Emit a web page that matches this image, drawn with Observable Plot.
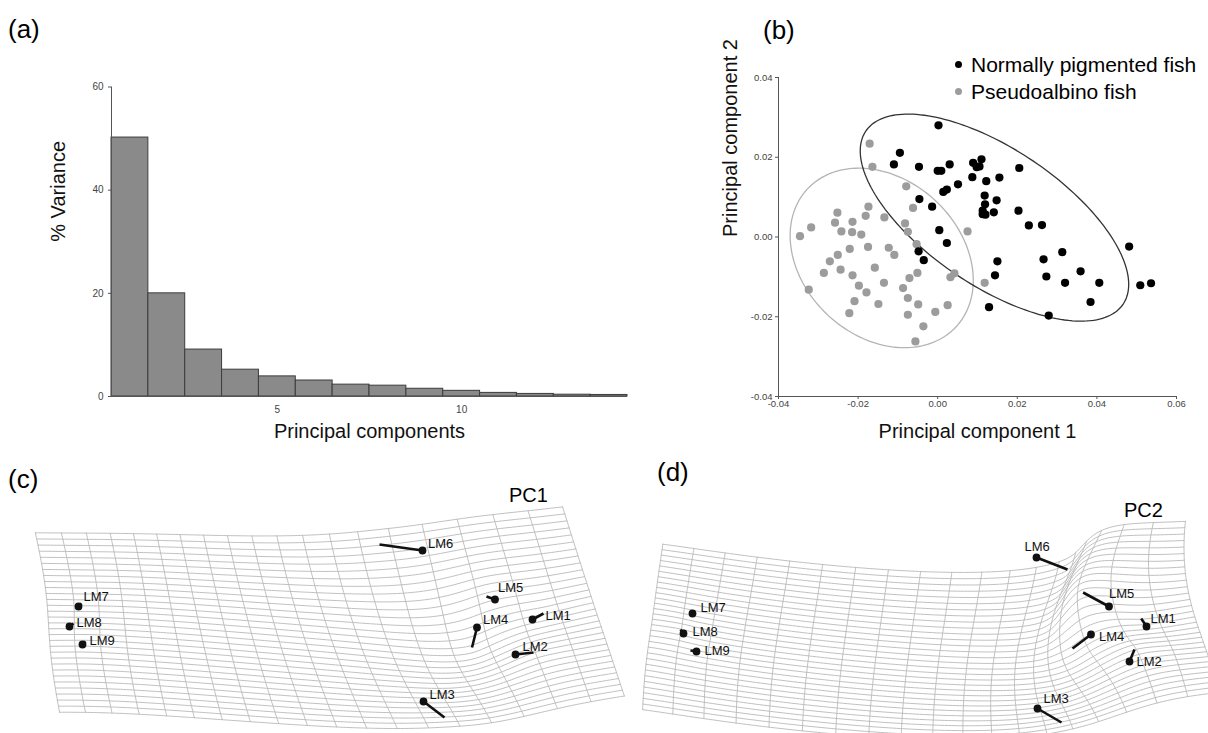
<!DOCTYPE html>
<html>
<head>
<meta charset="utf-8">
<script src="https://cdn.jsdelivr.net/npm/d3@7"></script>
<script src="https://cdn.jsdelivr.net/npm/@observablehq/plot@0.6"></script>
<style>
  body { margin: 0; background: #fff; }
  #fig { position: relative; width: 1208px; height: 733px; overflow: hidden;
         font-family: "Liberation Sans", Arial, sans-serif; color: #000; }
  .pane { position: absolute; }
  .pane svg { overflow: visible; }
  .tag { position: absolute; font-size: 26px; line-height: 26px; }
  .cap { position: absolute; font-size: 20px; line-height: 20px; }
  .legend { position: absolute; left: 955px; top: 51px; font-size: 21px; line-height: 27px; }
  .legend span.dot { display: inline-block; width: 7px; height: 7px; border-radius: 50%;
                     margin-right: 9px; vertical-align: middle; position: relative; top: -2px; }
</style>
</head>
<body>
<div id="fig"></div>
<script>
// ---------- (a) percentage of shape variance per principal component ----------
const pcIndex = [1, 2, 3, 4, 5, 6, 7, 8, 9, 10, 11, 12, 13, 14];
const pctVariance = [50.2, 20.0, 9.1, 5.2, 3.9, 3.1, 2.3, 2.1, 1.5, 1.1, 0.7, 0.5, 0.35, 0.3];

// ---------- (b) PC scores of individual fish ----------
const normalPC1 = [0.0002, -0.0095, -0.011, -0.0047, 0.0, 0.0009, 0.003, 0.0089, 0.0098, 0.011,
  0.0105, 0.0087, 0.0122, 0.0155, 0.0205, 0.0051, 0.0023, 0.0014, -0.0046, -0.0014,
  0.0118, 0.0148, 0.0119, 0.0113, 0.012, 0.0141, 0.0113, 0.0203, 0.0229, 0.0262,
  0.0004, 0.0023, -0.0048, -0.0035, 0.015, 0.0144, 0.0129, 0.0266, 0.0273, 0.0279,
  0.0313, 0.032, 0.0359, 0.0384, 0.0406, 0.0481, 0.0509, 0.0536];
const normalPC2 = [0.028, 0.0211, 0.0182, 0.0176, 0.0166, 0.0166, 0.0182, 0.0186, 0.0175, 0.0195,
  0.0177, 0.015, 0.014, 0.0149, 0.0173, 0.0132, 0.0119, 0.0113, 0.0095, 0.0076,
  0.0104, 0.0092, 0.0082, 0.0066, 0.0056, 0.0062, 0.0057, 0.0066, 0.0029, 0.003,
  0.0017, -0.0015, -0.0036, -0.0058, -0.0061, -0.0096, -0.0176, -0.0056, -0.0099, -0.0197,
  -0.0038, -0.0115, -0.0086, -0.0163, -0.0115, -0.0024, -0.0121, -0.0116];
const albinoPC1 = [-0.0171, -0.0164, -0.0079, -0.0062, -0.0174, -0.0252, -0.0134, -0.0181, -0.0258, -0.0214,
  -0.0082, -0.0318, -0.0346, -0.0242, -0.0215, -0.0192, -0.0075, 0.0075, -0.0053, -0.0221,
  -0.0175, -0.0123, -0.0109, -0.0251, -0.0271, -0.0158, -0.0244, -0.0286, -0.0214, -0.0051,
  -0.0071, -0.0135, -0.0198, -0.0087, -0.0179, -0.0324, 0.0032, 0.0042, 0.0118, -0.0075,
  -0.0209, -0.0149, -0.0049, 0.0025, -0.0222, -0.0075, -0.0006, -0.0036, -0.0056];
const albinoPC2 = [0.0234, 0.0176, 0.0127, 0.0073, 0.0076, 0.0061, 0.0049, 0.0053, 0.0036, 0.0038,
  0.0034, 0.0024, 0.0002, 0.0014, 0.0012, 0.0006, 0.0013, 0.0014, -0.0018, -0.003,
  -0.0025, -0.0027, -0.0045, -0.0045, -0.0061, -0.0077, -0.0082, -0.009, -0.0096, -0.009,
  -0.0103, -0.0115, -0.0122, -0.0128, -0.0139, -0.0132, -0.0101, -0.0091, -0.0115, -0.0153,
  -0.0161, -0.0168, -0.0169, -0.0171, -0.0191, -0.0195, -0.0188, -0.0224, -0.0262];
const ellipseProbability = 0.9;

// ---------- (c, d) landmark configurations: mean shape and PC shape changes ----------
const lmNames = ["LM1", "LM2", "LM3", "LM4", "LM5", "LM6", "LM7", "LM8", "LM9"];
const meanX = [2.32, 2.15, 1.23, 1.765, 1.945, 1.22, -2.22, -2.31, -2.18];
const meanY = [0.01, -0.34, -0.81, -0.07, 0.21, 0.70, 0.14, -0.06, -0.24];
const pc1X = [2.43, 2.33, 1.44, 1.715, 1.86, 0.79, -2.19, -2.27, -2.15];
const pc1Y = [0.07, -0.32, -0.97, -0.27, 0.24, 0.76, 0.17, -0.03, -0.21];
const pc2X = [2.267, 2.20, 1.47, 1.58, 1.686, 1.53, -2.22, -2.34, -2.24];
const pc2Y = [0.09, -0.22, -0.95, -0.21, 0.35, 0.58, 0.14, -0.02, -0.23];

// reference grid laid over the mean shape before warping
const gridU = [-2.58, 2.72];
const gridV = [-0.92, 0.81];
const gridCols = 19;
const gridRows = 30;

const FONT = '"Liberation Sans", Arial, sans-serif';
const fig = document.getElementById("fig");

function place(node, left, top) {
  const d = document.createElement("div");
  d.className = "pane";
  d.style.left = left + "px";
  d.style.top = top + "px";
  d.appendChild(node);
  fig.appendChild(d);
}
function addText(cls, txt, left, top) {
  const d = document.createElement("div");
  d.className = cls;
  d.textContent = txt;
  d.style.left = left + "px";
  d.style.top = top + "px";
  fig.appendChild(d);
}

// ---------------- panel (a) ----------------
const scree = pcIndex.map((k, i) => ({pc: k, pct: pctVariance[i]}));
const plotA = Plot.plot({
  width: 640, height: 460,
  marginLeft: 111, marginRight: 13, marginTop: 86.5, marginBottom: 64,
  style: {fontFamily: FONT, fontSize: "10px", color: "#444", background: "transparent"},
  x: {domain: [0.5, 14.5]},
  y: {domain: [0, 60]},
  marks: [
    Plot.rectY(scree, {x1: d => d.pc - 0.5, x2: d => d.pc + 0.5, y: "pct",
      fill: "#8a8a8a", stroke: "#3c3c3c", strokeWidth: 1}),
    Plot.ruleX([0.5], {stroke: "#555"}),
    Plot.ruleY([0], {stroke: "#555"}),
    Plot.axisY({ticks: [0, 20, 40, 60], tickSize: 3, tickPadding: 5, label: null, stroke: "#555"}),
    Plot.axisX({ticks: [5, 10], tickSize: 0, tickPadding: 9, label: null}),
    Plot.text(["% Variance"], {text: d => d, frameAnchor: "left", dx: -53, rotate: -90,
      fontSize: 20, fill: "#111"}),
    Plot.text(["Principal components"], {text: d => d, frameAnchor: "bottom", dy: 41,
      fontSize: 20, fill: "#111"})
  ]
});
place(plotA, 0, 0);

// ---------------- panel (b) ----------------
const normal = normalPC1.map((x, i) => ({x, y: normalPC2[i]}));
const albino = albinoPC1.map((x, i) => ({x, y: albinoPC2[i]}));

// equal-frequency ellipse from the group covariance matrix
function ellipse(pts, p) {
  const n = pts.length;
  const mx = d3.mean(pts, d => d.x), my = d3.mean(pts, d => d.y);
  let sxx = 0, syy = 0, sxy = 0;
  for (const d of pts) {
    sxx += (d.x - mx) ** 2; syy += (d.y - my) ** 2; sxy += (d.x - mx) * (d.y - my);
  }
  sxx /= n - 1; syy /= n - 1; sxy /= n - 1;
  const tr = sxx + syy, det = sxx * syy - sxy * sxy;
  const l1 = tr / 2 + Math.sqrt(tr * tr / 4 - det), l2 = tr / 2 - Math.sqrt(tr * tr / 4 - det);
  const ang = Math.atan2(l1 - sxx, sxy);
  const k = Math.sqrt(-2 * Math.log(1 - p));
  const a = k * Math.sqrt(l1), b = k * Math.sqrt(l2);
  const out = [];
  for (let i = 0; i <= 180; i++) {
    const t = (i / 180) * 2 * Math.PI;
    const ex = a * Math.cos(t), ey = b * Math.sin(t);
    out.push({x: mx + ex * Math.cos(ang) - ey * Math.sin(ang),
              y: my + ex * Math.sin(ang) + ey * Math.cos(ang)});
  }
  return out;
}

const pcTicks = [-0.04, -0.02, 0, 0.02, 0.04, 0.06];
const plotB = Plot.plot({
  width: 568, height: 460,
  marginLeft: 138, marginRight: 32, marginTop: 77, marginBottom: 64,
  style: {fontFamily: FONT, fontSize: "9.5px", color: "#444", background: "transparent"},
  x: {domain: [-0.04, 0.06]},
  y: {domain: [-0.04, 0.04]},
  marks: [
    Plot.line(ellipse(albino, ellipseProbability), {x: "x", y: "y", stroke: "#b4b4b4", strokeWidth: 1.3}),
    Plot.line(ellipse(normal, ellipseProbability), {x: "x", y: "y", stroke: "#333", strokeWidth: 1.3}),
    Plot.dot(albino, {x: "x", y: "y", r: 4.1, fill: "#9c9c9c"}),
    Plot.dot(normal, {x: "x", y: "y", r: 4.1, fill: "#000"}),
    Plot.ruleX([-0.04], {stroke: "#555"}),
    Plot.ruleY([-0.04], {stroke: "#555"}),
    Plot.axisY({ticks: pcTicks.slice(0, 5), tickFormat: d => d.toFixed(2), tickSize: 3, tickPadding: 3,
      label: null, stroke: "#555"}),
    Plot.axisX({ticks: pcTicks, tickFormat: d => d.toFixed(2), tickSize: 3, tickPadding: 1,
      label: null, stroke: "#555"}),
    Plot.text(["Principal component 2"], {text: d => d, frameAnchor: "left", dx: -48, rotate: -90,
      fontSize: 20, fill: "#111"}),
    Plot.text(["Principal component 1"], {text: d => d, frameAnchor: "bottom", dy: 41,
      fontSize: 20, fill: "#111"})
  ]
});
place(plotB, 640, 0);

const legend = document.createElement("div");
legend.className = "legend";
legend.innerHTML =
  '<div><span class="dot" style="background:#000"></span>Normally pigmented fish</div>' +
  '<div><span class="dot" style="background:#9c9c9c"></span>Pseudoalbino fish</div>';
fig.appendChild(legend);

// ---------------- panels (c) and (d): thin-plate spline deformation grids ----------------
function thinPlateSpline(src, dst) {
  const n = src.length, N = n + 3;
  const U = r2 => (r2 === 0 ? 0 : r2 * Math.log(r2));
  const A = Array.from({length: N}, () => new Array(N + 2).fill(0));
  for (let i = 0; i < n; i++) {
    for (let j = 0; j < n; j++) {
      const dx = src[i][0] - src[j][0], dy = src[i][1] - src[j][1];
      A[i][j] = U(dx * dx + dy * dy);
    }
    A[i][n] = 1; A[i][n + 1] = src[i][0]; A[i][n + 2] = src[i][1];
    A[n][i] = 1; A[n + 1][i] = src[i][0]; A[n + 2][i] = src[i][1];
    A[i][N] = dst[i][0]; A[i][N + 1] = dst[i][1];
  }
  // Gaussian elimination with partial pivoting, two right-hand sides
  for (let c = 0; c < N; c++) {
    let piv = c;
    for (let r = c + 1; r < N; r++) if (Math.abs(A[r][c]) > Math.abs(A[piv][c])) piv = r;
    [A[c], A[piv]] = [A[piv], A[c]];
    for (let r = 0; r < N; r++) {
      if (r === c) continue;
      const f = A[r][c] / A[c][c];
      if (f === 0) continue;
      for (let k = c; k < N + 2; k++) A[r][k] -= f * A[c][k];
    }
  }
  const wx = A.map((row, i) => row[N] / row[i]);
  const wy = A.map((row, i) => row[N + 1] / row[i]);
  return (x, y) => {
    let fx = wx[n] + wx[n + 1] * x + wx[n + 2] * y;
    let fy = wy[n] + wy[n + 1] * x + wy[n + 2] * y;
    for (let i = 0; i < n; i++) {
      const dx = x - src[i][0], dy = y - src[i][1];
      const u = U(dx * dx + dy * dy);
      fx += wx[i] * u; fy += wy[i] * u;
    }
    return [fx, fy];
  };
}

function warpedGrid(warp) {
  const pts = [];
  const [u0, u1] = gridU, [v0, v1] = gridV;
  for (let i = 0; i <= gridCols; i++) {
    const u = u0 + (i / gridCols) * (u1 - u0);
    for (let s = 0; s <= 80; s++) {
      const v = v0 + (s / 80) * (v1 - v0);
      const [x, y] = warp(u, v);
      pts.push({line: "c" + i, x, y});
    }
  }
  for (let j = 0; j <= gridRows; j++) {
    const v = v0 + (j / gridRows) * (v1 - v0);
    for (let s = 0; s <= 160; s++) {
      const u = u0 + (s / 160) * (u1 - u0);
      const [x, y] = warp(u, v);
      pts.push({line: "r" + j, x, y});
    }
  }
  return pts;
}

function deformationPanel(tx, ty, labelOffsets, frame) {
  const src = meanX.map((x, i) => [x, meanY[i]]);
  const dst = tx.map((x, i) => [x, ty[i]]);
  const warp = thinPlateSpline(src, dst);
  const lms = lmNames.map((name, i) => ({name, x: meanX[i], y: meanY[i], tx: tx[i], ty: ty[i]}));
  return Plot.plot({
    width: frame.width, height: frame.height,
    margin: 0,
    style: {fontFamily: FONT, background: "transparent"},
    x: {domain: frame.x, range: [0, frame.width], axis: null},
    y: {domain: frame.y, range: [frame.height, 0], axis: null},
    marks: [
      Plot.line(warpedGrid(warp), {x: "x", y: "y", z: "line", stroke: "#b9b9b9", strokeWidth: 0.9}),
      Plot.link(lms, {x1: "x", y1: "y", x2: "tx", y2: "ty", stroke: "#111", strokeWidth: 2.6}),
      Plot.dot(lms, {x: "x", y: "y", r: 3.9, fill: "#111"}),
      ...lms.map((d, i) => Plot.text([d], {x: "x", y: "y", text: "name", textAnchor: "start",
        dx: labelOffsets[i][0], dy: labelOffsets[i][1], fontSize: 13, fill: "#111"}))
    ]
  });
}

const offsetsPC1 = [[13, -4], [7, -8], [6, -7], [6, -8], [3, -12], [5.5, -7], [5, -10], [7, -4], [7, -4]];
const offsetsPC2 = [[4, -8], [7, 0], [6, -10], [8, 2], [0, -13], [-12, -11], [8, -6], [9, -2], [8, -1]];

place(deformationPanel(pc1X, pc1Y, offsetsPC1,
  {width: 606, height: 293, x: [-3, 3.06], y: [-1.13, 1.8]}), 0, 440);
place(deformationPanel(pc2X, pc2Y, offsetsPC2,
  {width: 602, height: 293, x: [-3.08, 2.94], y: [-1.06, 1.87]}), 606, 440);

// panel tags and captions
addText("tag", "(a)", 8, 16);
addText("tag", "(b)", 763, 17);
addText("tag", "(c)", 8, 466);
addText("tag", "(d)", 657, 459);
addText("cap", "PC1", 509, 485);
addText("cap", "PC2", 1124, 500);
</script>
</body>
</html>
